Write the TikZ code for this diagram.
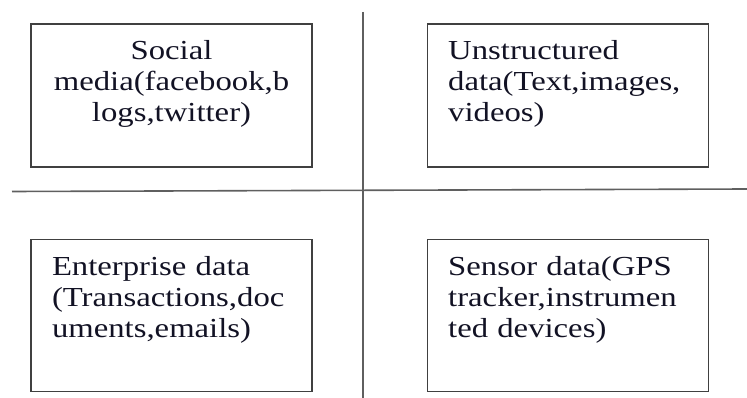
\documentclass[tikz,border=0pt]{standalone}
\usepackage{fontspec}
\setmainfont[FakeStretch=1.19]{Liberation Serif}
\usepackage{tikz}
\usetikzlibrary{positioning}
\definecolor{boxline}{RGB}{64,64,64}
\definecolor{divline}{RGB}{95,95,95}
\definecolor{ink}{RGB}{18,18,36}

\begin{document}
\begin{tikzpicture}[x=1pt, y=-1pt, node distance=114pt,
              quadrant/.style = {shape=rectangle, draw=boxline, line width=1.2pt,
                minimum width=281pt, text width=239pt, inner xsep=21pt, inner ysep=0pt,
                text height=36pt, text=ink, align=left,
                font=\fontsize{27.5}{31}\selectfont},
              upper/.style = {quadrant, text depth=107pt},
              lower/.style = {quadrant, text depth=116pt},
              divider/.style = {draw=divline, line width=1.6pt}]
  \useasboundingbox (0,0) rectangle (747,398);
  % the four sources
  \node[upper, align=center] (social) at (171.5,95.5) {Social\\ media(facebook,b\\ logs,twitter)};
  \node[upper, right=of social] (unstructured) {Unstructured\\ data(Text,images,\\ videos)};
  \node[lower, below=71pt of social] (enterprise) {Enterprise~data\\ (Transactions,doc\\ uments,emails)};
  \node[lower, right=of enterprise] (sensor) {Sensor~data(GPS\\ tracker,instrumen\\ ted~devices)};
  % cross dividing the quadrants
  \coordinate (vtop) at (363,12);
  \coordinate (vbottom) at (363,398);
  \coordinate (hleft) at (12,191.5);
  \coordinate (hright) at (747,189);
  \draw[divider] (vtop) -- (vbottom);
  \draw[divider] (hleft) -- (hright);
\end{tikzpicture}
\end{document}
